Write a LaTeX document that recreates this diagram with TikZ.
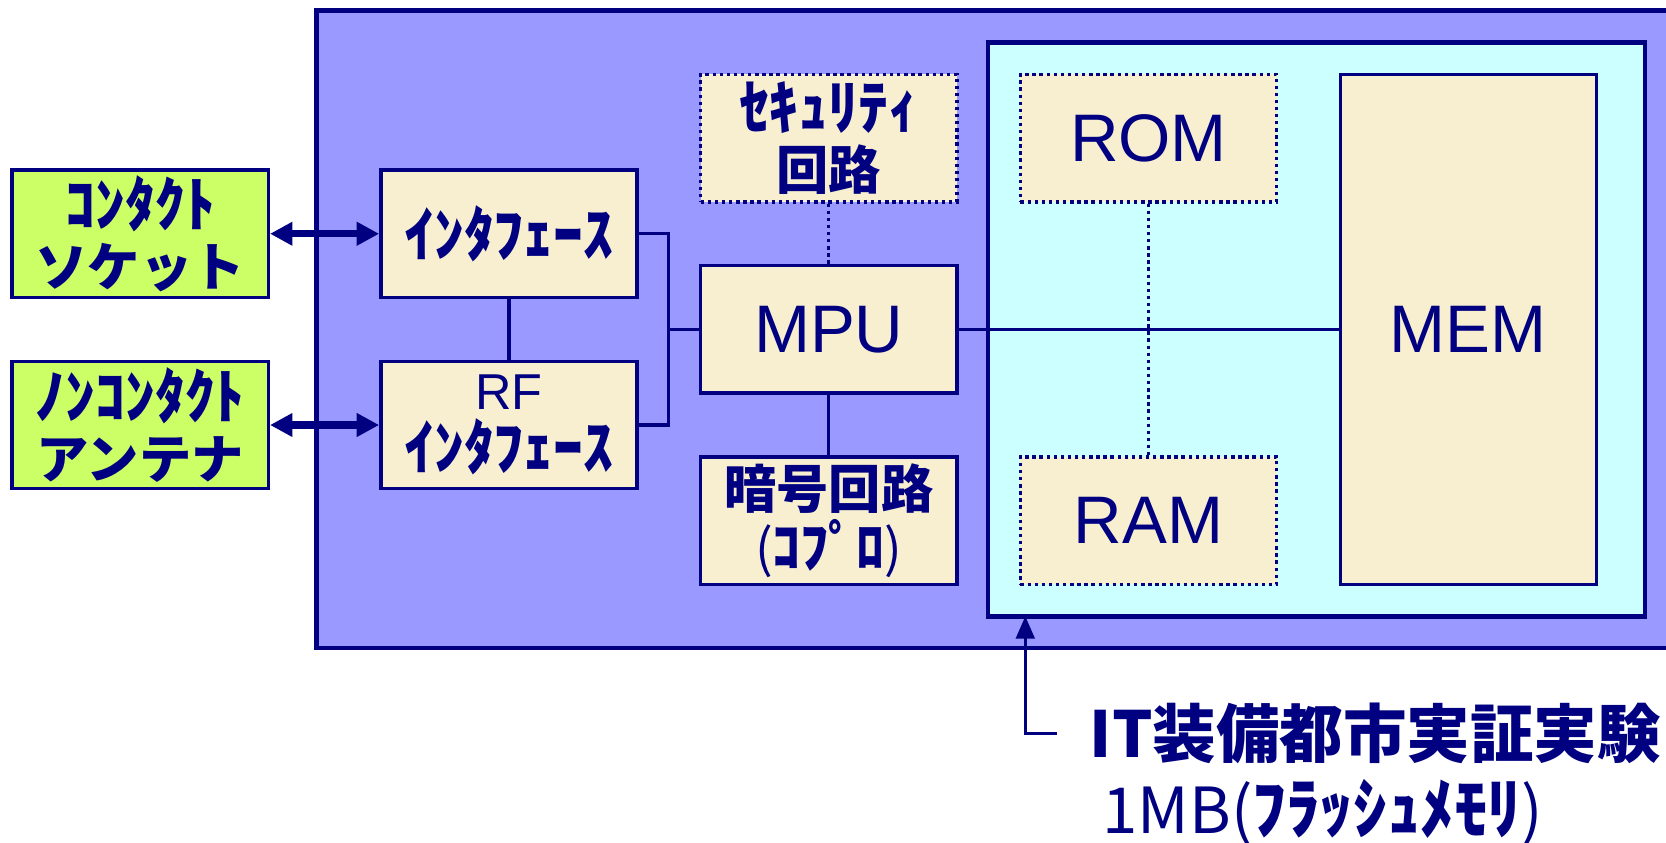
\documentclass[tikz,border=0pt]{standalone}
\usepackage{fontspec}
\setmainfont{Liberation Sans}
\newfontfamily\jp{Noto Sans CJK JP}
\usetikzlibrary{arrows.meta}
\definecolor{navy}{HTML}{000080}
\definecolor{chipbg}{HTML}{9999FF}
\definecolor{membg}{HTML}{CCFFFF}
\definecolor{cream}{HTML}{F8EFD1}
\definecolor{portbg}{HTML}{CCFF66}
\newcommand\kanasize{\fontsize{16}{17}\selectfont}
\tikzset{
  blk/.style={draw=navy, fill=cream, line width=0.9pt, text=navy, align=center,
    minimum width=2.41cm, minimum height=1.2cm, inner sep=0pt,
    font=\jp\bfseries\fontsize{14}{16}\selectfont},
  dotblk/.style={blk, densely dotted},
  portblk/.style={blk, fill=portbg},
  bigtxt/.style={font=\fontsize{18}{20}\selectfont},
  link/.style={draw=navy, line width=0.9pt},
  dotlink/.style={link, densely dotted},
  both/.style={navy, line width=2pt, {Triangle[length=6pt,width=6pt]}-{Triangle[length=6pt,width=6pt]}},
  notetxt/.style={anchor=west, inner sep=0pt, text=navy, font=\jp\bfseries\fontsize{17}{20}\selectfont},
}
\begin{document}
\begin{tikzpicture}[x=0.01cm, y=-0.01cm]
  \useasboundingbox (0,0) rectangle (1568,793);
  \fill[chipbg] (298,10) rectangle (1580,610);
  \draw[navy, line width=1.2pt] (1580,10) -- (298,10) -- (298,610) -- (1580,610);
  \draw[navy, line width=1.2pt, fill=membg] (930,40) rectangle (1548,580);
  \draw
    (132,220) node[portblk] (socket) {{\kanasize ｺﾝﾀｸﾄ}\\ソケット}
    (132,400) node[portblk] (antenna) {{\kanasize ﾉﾝｺﾝﾀｸﾄ}\\アンテナ}
    (479,220) node[blk] (iface) {\kanasize ｲﾝﾀﾌｪｰｽ}
    (479,400) node[blk] (rfiface) {{\rmfamily\mdseries\fontsize{13.5}{16}\selectfont RF}\\{\kanasize ｲﾝﾀﾌｪｰｽ}}
    (780,130) node[dotblk] (sec) {{\kanasize ｾｷｭﾘﾃｨ}\\回路}
    (780,310) node[blk, bigtxt] (mpu) {MPU}
    (780,490) node[blk] (crypto) {暗号回路\\{\mdseries(}{\fontsize{15}{16}\selectfont ｺﾌﾟﾛ}{\mdseries)}}
    (1081,130) node[dotblk, bigtxt] (rom) {ROM}
    (1081,490) node[dotblk, bigtxt] (ram) {RAM}
    (1382,310) node[blk, bigtxt, minimum height=4.8cm] (mem) {MEM};
  \coordinate (joint) at (629,310);
  \coordinate (memtip) at (965,580);
  \node[notetxt] (itlab) at (1025,690) {IT装備都市実証実験};
  \node[notetxt] (flashlab) at (1037,765) {{\mdseries 1MB(}{\fontsize{18}{20}\selectfont ﾌﾗｯｼｭﾒﾓﾘ}{\mdseries)}};
  \begin{scope}[link]
    \draw (iface) -- (rfiface);
    \draw (iface.east) -| (joint) |- (rfiface.east);
    \draw (joint) -- (mpu.west);
    \draw (mpu) -- (crypto);
    \draw (mpu.east) -- (mem.west);
  \end{scope}
  \begin{scope}[dotlink]
    \draw (sec) -- (mpu);
    \draw (rom) -- (ram);
  \end{scope}
  \draw[both] (socket) -- (iface);
  \draw[both] (antenna) -- (rfiface);
  \draw[navy, line width=0.8pt, -{Triangle[length=6pt,width=5pt]}] ([xshift=-0.3cm]itlab.west) -| (memtip);
\end{tikzpicture}
\end{document}
